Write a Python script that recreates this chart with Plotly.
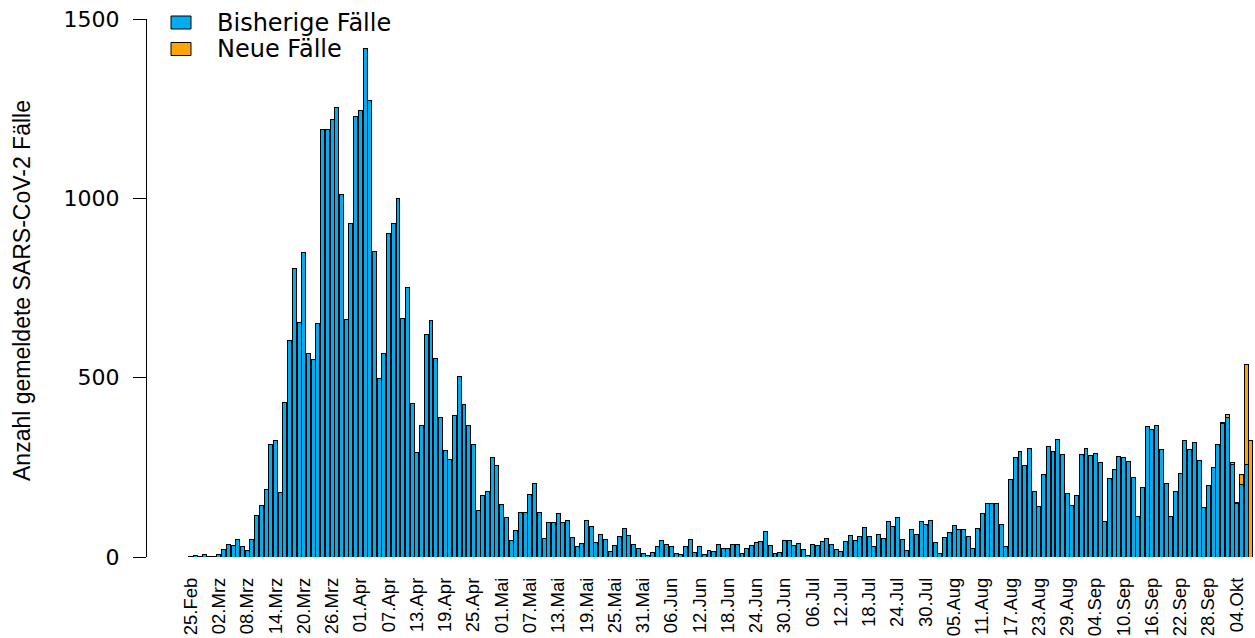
import pandas as pd
import plotly.graph_objects as go

# ---- data -------------------------------------------------------------
start_date = "2020-02-25"
n_days = 226
month_de = {2: "Feb", 3: "Mrz", 4: "Apr", 5: "Mai", 6: "Jun", 7: "Jul",
            8: "Aug", 9: "Sep", 10: "Okt"}
dates = pd.date_range(start_date, periods=n_days, freq="D")
categories = [f"{d.day:02d}.{month_de[d.month]}" for d in dates]

bisherige_faelle = [
    2, 4, 2, 6, 2, 2, 8, 21, 34, 33, 48, 30, 17, 50, 115, 143, 188, 314, 325, 180,
    432, 605, 805, 655, 850, 566, 550, 652, 1192, 1192, 1220, 1252, 1012, 662, 930,
    1229, 1246, 1418, 1272, 852, 497,
    566, 902, 930, 1000, 665, 751, 427, 291, 368, 621, 660, 553, 389, 296, 272, 394,
    504, 424, 366, 315,
    131, 171, 182, 277, 255, 145, 110, 47, 75, 125, 124, 175, 204, 125, 51, 96, 97,
    121, 97, 101,
    53, 29, 38, 101, 85, 40, 62, 48, 16, 32, 56, 79, 60, 36, 23, 10, 5, 13, 29, 46,
    34, 29, 10, 8, 29, 50, 12, 29, 8, 19, 16,
    35, 24, 24, 34, 34, 9, 24, 33, 40, 42, 72, 33, 9, 13, 47, 46, 31, 38, 21, 3, 35,
    33, 44, 51, 36, 22, 15, 44, 61, 46, 57,
    81, 57, 28, 62, 51, 100, 86, 109, 50, 18, 76, 64, 99, 91, 102, 41, 10, 53, 67,
    88, 77, 77, 57, 23, 80, 121, 149, 150,
    150, 92, 29, 216, 277, 293, 256, 302, 182, 140, 231, 308, 294, 327, 286, 177,
    144, 171, 286, 302, 283, 288, 263, 99, 219, 243, 281,
    278, 265, 222, 112, 193, 364, 356, 366, 300, 204, 112, 184, 234, 325, 301, 319,
    270, 139, 200, 249, 314, 373, 389, 258, 149, 203, 257, 0,
]

neue_faelle = [0] * 219 + [3, 7, 6, 2, 27, 281, 326]

tick_labels = [
    "25.Feb", "02.Mrz", "08.Mrz", "14.Mrz", "20.Mrz", "26.Mrz", "01.Apr", "07.Apr",
    "13.Apr", "19.Apr", "25.Apr", "01.Mai", "07.Mai", "13.Mai", "19.Mai", "25.Mai",
    "31.Mai", "06.Jun", "12.Jun", "18.Jun", "24.Jun", "30.Jun", "06.Jul", "12.Jul",
    "18.Jul", "24.Jul", "30.Jul", "05.Aug", "11.Aug", "17.Aug", "23.Aug", "29.Aug",
    "04.Sep", "10.Sep", "16.Sep", "22.Sep", "28.Sep", "04.Okt",
]

y_ticks = [0, 500, 1000, 1500]

series_names = ["Bisherige Fälle", "Neue Fälle"]
series_colors = ["#00AEEF", "#FFA500"]
y_title = "Anzahl gemeldete SARS-CoV-2 Fälle"

# ---- figure -----------------------------------------------------------
W, H = 1255, 638
ML, MR, MT, MB = 147, 0, 19, 81
plot_w = W - ML - MR
plot_h = H - MT - MB

fig = go.Figure()
for name, vals, col in zip(series_names, [bisherige_faelle, neue_faelle], series_colors):
    fig.add_trace(go.Bar(
        x=categories, y=vals, name=name,
        marker=dict(color=col, line=dict(color="black", width=1)),
        showlegend=False,
    ))

def px_x(px):
    return (px - ML) / plot_w

def px_y(py):
    return 1 - (py - MT) / plot_h

# manual legend (boxes + text)
legend_rows = [22.5, 49]
for (name, col, yc) in zip(series_names, series_colors, legend_rows):
    fig.add_shape(type="rect", xref="paper", yref="paper",
                  x0=px_x(171), x1=px_x(191), y0=px_y(yc - 6.5), y1=px_y(yc + 6.5),
                  fillcolor=col, line=dict(color="black", width=1))
    fig.add_annotation(xref="paper", yref="paper", x=px_x(215), y=px_y(yc),
                       xanchor="left", yanchor="middle", showarrow=False,
                       text=name, font=dict(family="DejaVu Sans", size=24, color="black"))

fig.add_annotation(xref="paper", yref="paper", x=px_x(22), y=px_y(291),
                   xanchor="center", yanchor="middle", showarrow=False, textangle=-90,
                   text=y_title, font=dict(family="Liberation Sans", size=23, color="black"))

fig.update_layout(
    width=W, height=H,
    margin=dict(l=ML, r=MR, t=MT, b=MB, pad=0, autoexpand=False),
    paper_bgcolor="white", plot_bgcolor="white",
    barmode="stack", bargap=0.16,
    xaxis=dict(
        type="category",
        range=[-9.27, 225.87],
        tickmode="array", tickvals=tick_labels, ticktext=tick_labels,
        tickangle=-90, ticks="", showline=False, showgrid=False, zeroline=False,
        tickfont=dict(family="Liberation Sans", size=18.5, color="black"),
        ticklabelstandoff=16, automargin=False,
    ),
    yaxis=dict(
        range=[0, 1500], tickmode="array", tickvals=y_ticks,
        showline=True, linecolor="black", linewidth=1,
        ticks="outside", ticklen=13, tickwidth=1, tickcolor="black",
        showgrid=False, zeroline=False,
        tickfont=dict(family="DejaVu Sans", size=22, color="black"),
        ticklabelstandoff=9, automargin=False, ticklabeloverflow="allow",
    ),
)

fig.write_html(
    "out.html",
    config={"displayModeBar": False},
    post_script="document.body.style.margin='0';document.body.style.overflow='hidden';",
)
